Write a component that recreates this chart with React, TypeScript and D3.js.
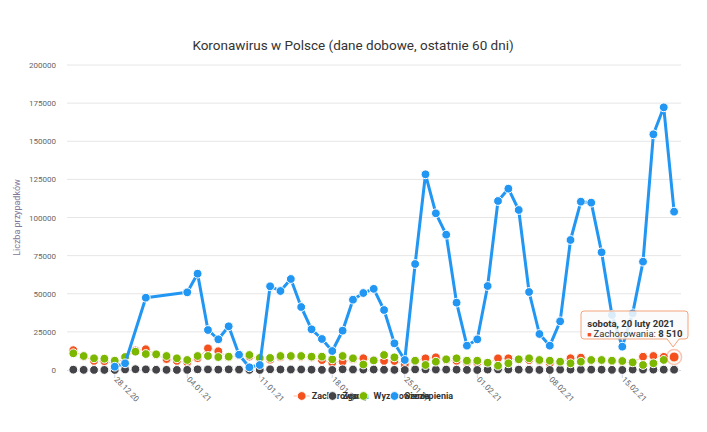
import React from 'react';
import * as d3 from 'd3';

// ---- data ----
const dates: Date[] = d3.timeDay.range(new Date(2020, 11, 24), new Date(2021, 1, 21));

const seriesNames = ['Zachorowania', 'Zgony', 'Wyzdrowienia', 'Szczepienia'];

const cases = [
  13000, 8800, 6000, 5800, 4000, 8000, 12800, 13600, 10000, 7200,
  6000, 5000, 7800, 14200, 12300, 8500, 9500, 8800, 7400, 6800,
  8500, 8700, 8600, 8200, 6500, 4800, 5500, 7000, 7700, 6500,
  6000, 5900, 3500, 5800, 7670, 8330, 6500, 6000, 5000, 4800,
  4200, 7670, 7670, 6700, 6500, 6000, 4500, 5000, 7700, 8100,
  6100, 6300, 5800, 5500, 4800, 8700, 9180, 8600, 8510,
];

const deaths = [
  215, 89, 47, 32, 43, 348, 528, 412, 162, 98,
  37, 93, 451, 367, 290, 403, 268, 96, 38, 469,
  331, 317, 322, 186, 96, 26, 462, 313, 302, 320,
  160, 80, 16, 407, 363, 314, 285, 230, 81, 11,
  300, 362, 314, 252, 182, 58, 9, 248, 275, 246,
  244, 203, 112, 18, 305, 270, 249, 226, 181,
];

const recoveries = [
  10950, 9180, 7670, 7410, 6100, 8500, 12000, 10490, 10300, 9180,
  7670, 6560, 9180, 9180, 8500, 8740, 9800, 9840, 7900, 7900,
  9180, 9180, 9180, 8740, 8740, 7000, 9180, 7670, 3600, 6300,
  9840, 8300, 6800, 6100, 3280, 5440, 7020, 7670, 6100, 6100,
  4790, 2820, 4390, 7020, 7670, 6560, 6100, 5440, 4390, 5440,
  6560, 6560, 6100, 5900, 5000, 3280, 4390, 6600, 7670,
];

const vaccinations: (number | null)[] = [
  null, null, null, null, 2160, 4390, null, 47400, null, null,
  null, 50950, 63150, 26230, 20130, 28650, 10030, 1770, 3280, 54880,
  51800, 59670, 41310, 26690, 20330, 12460, 25770, 46100, 50490, 53200,
  39340, 17490, 6560, 69510, 128330, 102750, 88740, 44150, 15960, 20110,
  55080, 110820, 118900, 104920, 51150, 23610, 15960, 31910, 85250, 110380,
  109730, 77160, 36070, 15300, 37160, 71040, 154560, 172240, 103820,
];

const yTicks = [0, 25000, 50000, 75000, 100000, 125000, 150000, 175000, 200000];
const xTickDates = [
  new Date(2020, 11, 28), new Date(2021, 0, 4), new Date(2021, 0, 11), new Date(2021, 0, 18),
  new Date(2021, 0, 25), new Date(2021, 1, 1), new Date(2021, 1, 8), new Date(2021, 1, 15),
];
const xTickLabels = ['28.12.20', '04.01.21', '11.01.21', '18.01.21', '25.01.21', '01.02.21', '08.02.21', '15.02.21'];

const hoverIndex = 58;
const tooltipTitle = 'sobota, 20 luty 2021';

// ---- styles ----
const COLORS = ['#f4511e', '#434348', '#7cb800', '#2196f3'];
const FONT = 'Roboto, "Open Sans", sans-serif';

export default function App() {
  const W = 707, H = 432;
  const x = d3.scaleTime().domain([dates[0], dates[dates.length - 1]]).range([73.3, 674.1]);
  const y = d3.scaleLinear().domain([0, 200000]).range([370, 65]);
  const gridX0 = 67, gridX1 = 681;

  const vaccPts = dates
    .map((d, i) => ({ d, v: vaccinations[i] }))
    .filter((p) => p.v !== null) as { d: Date; v: number }[];
  const vaccLine = d3.line<{ d: Date; v: number }>().x((p) => x(p.d)).y((p) => y(p.v))(vaccPts) || '';
  const casesLine = d3.line<number>().x((_, i) => x(dates[i])).y((v) => y(v))(cases) || '';

  const marker = (cx: number, cy: number, color: string, key: string) => (
    <circle key={key} cx={cx} cy={cy} r={4.4} fill={color} stroke="#fff" strokeWidth={1} />
  );

  const hx = x(dates[hoverIndex]);
  const hy = y(cases[hoverIndex]);

  // tooltip geometry
  const tx0 = 581, tx1 = 688, ty0 = 311, ty1 = 339, tipX = hx - 1, tipY = 347;
  const r = 3;
  const tooltipPath =
    `M${tx0 + r},${ty0} H${tx1 - r} Q${tx1},${ty0} ${tx1},${ty0 + r} V${ty1 - r} Q${tx1},${ty1} ${tx1 - r},${ty1}` +
    ` H${tipX + 6} L${tipX},${tipY} L${tipX - 6},${ty1} H${tx0 + r} Q${tx0},${ty1} ${tx0},${ty1 - r} V${ty0 + r} Q${tx0},${ty0} ${tx0 + r},${ty0} Z`;

  const legendXs = [301.7, 332.5, 363.5, 394.5];
  const legendY = 396;

  const fmt = (v: number) => d3.format(',')(v).replace(/,/g, ' ');

  return (
    <svg width={W} height={H} style={{ position: 'absolute', left: 0, top: 0, fontFamily: FONT }}>
      <rect width={W} height={H} fill="#fff" />
      {/* title */}
      <text x={353} y={50} textAnchor="middle" fontSize={13.5} fill="#333">
        Koronawirus w Polsce (dane dobowe, ostatnie 60 dni)
      </text>

      {/* grid + y labels */}
      {yTicks.map((t) => (
        <g key={t}>
          {t > 0 && <line x1={gridX0} x2={gridX1} y1={y(t)} y2={y(t)} stroke="#e6e6e6" strokeWidth={1} />}
          <text x={56} y={y(t) + 3} textAnchor="end" fontSize={8} fill="#666">{t}</text>
        </g>
      ))}
      {/* y title */}
      <text transform="translate(19.7,217.5) rotate(-90)" textAnchor="middle" fontSize={9} fill="#84779a">
        Liczba przypadków
      </text>

      {/* x axis */}
      <line x1={gridX0} x2={gridX1} y1={370.5} y2={370.5} stroke="#ccd6eb" strokeWidth={1} />
      {xTickDates.map((d, i) => (
        <g key={i}>
          <line x1={x(d)} x2={x(d)} y1={370} y2={378} stroke="#ccd6eb" strokeWidth={1} />
          <text transform={`translate(${x(d) - 1},380) rotate(45)`} fontSize={8} fill="#666">
            {xTickLabels[i]}
          </text>
        </g>
      ))}

      {/* cases (faint line + markers) */}
      <path d={casesLine} fill="none" stroke={COLORS[0]} strokeOpacity={0.35} strokeWidth={1} />
      {cases.map((v, i) => marker(x(dates[i]), y(v), COLORS[0], 'c' + i))}
      {/* deaths */}
      {deaths.map((v, i) => marker(x(dates[i]), y(v), COLORS[1], 'd' + i))}
      {/* recoveries */}
      {recoveries.map((v, i) => marker(x(dates[i]), y(v), COLORS[2], 'r' + i))}
      {/* vaccinations */}
      <path d={vaccLine} fill="none" stroke={COLORS[3]} strokeWidth={3} strokeLinejoin="round" />
      {vaccPts.map((p, i) => marker(x(p.d), y(p.v), COLORS[3], 'v' + i))}

      {/* hovered point */}
      <circle cx={hx} cy={hy} r={7.5} fill="none" stroke={COLORS[0]} strokeOpacity={0.35} strokeWidth={1.5} />
      <circle cx={hx} cy={hy} r={5} fill={COLORS[0]} stroke="#fff" strokeWidth={1} />

      {/* legend */}
      {seriesNames.map((name, i) => (
        <g key={name}>
          {i === 0 && (
            <line x1={legendXs[i] - 8} x2={legendXs[i] + 8} y1={legendY} y2={legendY} stroke={COLORS[0]} strokeOpacity={0.4} strokeWidth={1} />
          )}
          <circle cx={legendXs[i]} cy={legendY} r={4.4} fill={COLORS[i]} stroke="#fff" strokeWidth={1} />
          <text x={legendXs[i] + 10} y={legendY + 3.3} fontSize={9} fontWeight="bold" fill="#333">{name}</text>
        </g>
      ))}

      {/* tooltip */}
      <path d={tooltipPath} fill="rgba(250,250,250,0.85)" stroke="#f3a47c" strokeWidth={1} />
      <text x={587.3} y={326.5} fontSize={9.5} fontWeight="bold" fill="#333">{tooltipTitle}</text>
      <text x={587.3} y={336.8} fontSize={9.5} fill="#333">
        <tspan fill={COLORS[0]} fontSize={7}>■</tspan>
        <tspan dx={2}>{seriesNames[0]}: </tspan>
        <tspan fontWeight="bold">{fmt(cases[hoverIndex])}</tspan>
      </text>
    </svg>
  );
}
